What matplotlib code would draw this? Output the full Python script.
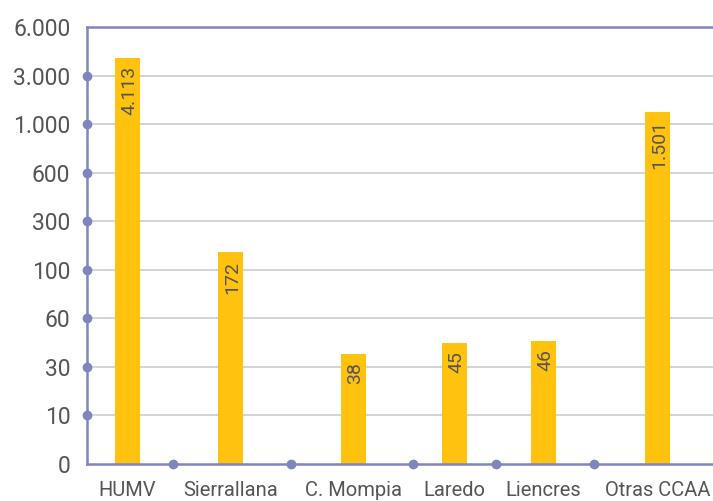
import numpy as np
import matplotlib
matplotlib.use("Agg")
import matplotlib.pyplot as plt

# ---- data ----
categories = ["HUMV", "Sierrallana", "C. Mompia", "Laredo", "Liencres", "Otras CCAA"]
values = [4113, 172, 38, 45, 46, 1501]
value_labels = ["4.113", "172", "38", "45", "46", "1.501"]
y_ticks = [0, 10, 30, 60, 100, 300, 600, 1000, 3000, 6000]
y_tick_labels = ["0", "10", "30", "60", "100", "300", "600", "1.000", "3.000", "6.000"]

# ---- layout (category slot centres and separators, in axis units) ----
x_pos = [127.5, 230.5, 353.5, 454.5, 543.5, 657.5]
x_sep = [173, 291, 413, 496, 594]
x_lim = (87, 713)

# ---- styles ----
bar_color = "#FFC20E"
axis_color = "#7F86BF"
grid_color = "#D0D0D0"
text_color = "#555555"
plt.rcParams["font.family"] = ["Roboto", "DejaVu Sans"]

idx = np.arange(len(y_ticks), dtype=float)
def fwd(v):
    return np.interp(v, y_ticks, idx)
def inv(v):
    return np.interp(v, idx, y_ticks)

fig = plt.figure(figsize=(7.13, 5.01), dpi=100)
ax = fig.add_axes([87 / 713, (501 - 464) / 501, 1 - 87 / 713, (464 - 27) / 501])
ax.set_yscale("function", functions=(fwd, inv))
ax.set_ylim(0, 6000)
ax.set_xlim(*x_lim)

ax.bar(x_pos, values, width=25, color=bar_color, zorder=3)

for x, v, lab in zip(x_pos, values, value_labels):
    ax.annotate(lab, (x, v), xytext=(1.5, -6), textcoords="offset points",
                rotation=90, ha="center", va="top", fontsize=14,
                color=text_color, zorder=4)

ax.set_yticks(y_ticks)
ax.set_yticklabels(y_tick_labels, fontsize=16.5)
ax.set_xticks(x_pos)
ax.set_xticklabels(categories, fontsize=14.5)
ax.tick_params(axis="both", length=0, colors=text_color)
ax.tick_params(axis="y", pad=12)
ax.tick_params(axis="x", pad=12)

for t in y_ticks[1:-1]:
    ax.axhline(t, color=grid_color, lw=1.3, zorder=1)

ax.spines["right"].set_visible(False)
for s in ["left", "bottom", "top"]:
    ax.spines[s].set_color(axis_color)
    ax.spines[s].set_linewidth(1.8)
    ax.spines[s].set_zorder(5)

ax.plot([x_lim[0]] * (len(y_ticks) - 2), y_ticks[1:-1], "o", color=axis_color,
        ms=6, clip_on=False, zorder=6)
ax.plot(x_sep, [0] * len(x_sep), "o", color=axis_color, ms=6, clip_on=False, zorder=6)

fig.savefig("out.png", dpi=100)
